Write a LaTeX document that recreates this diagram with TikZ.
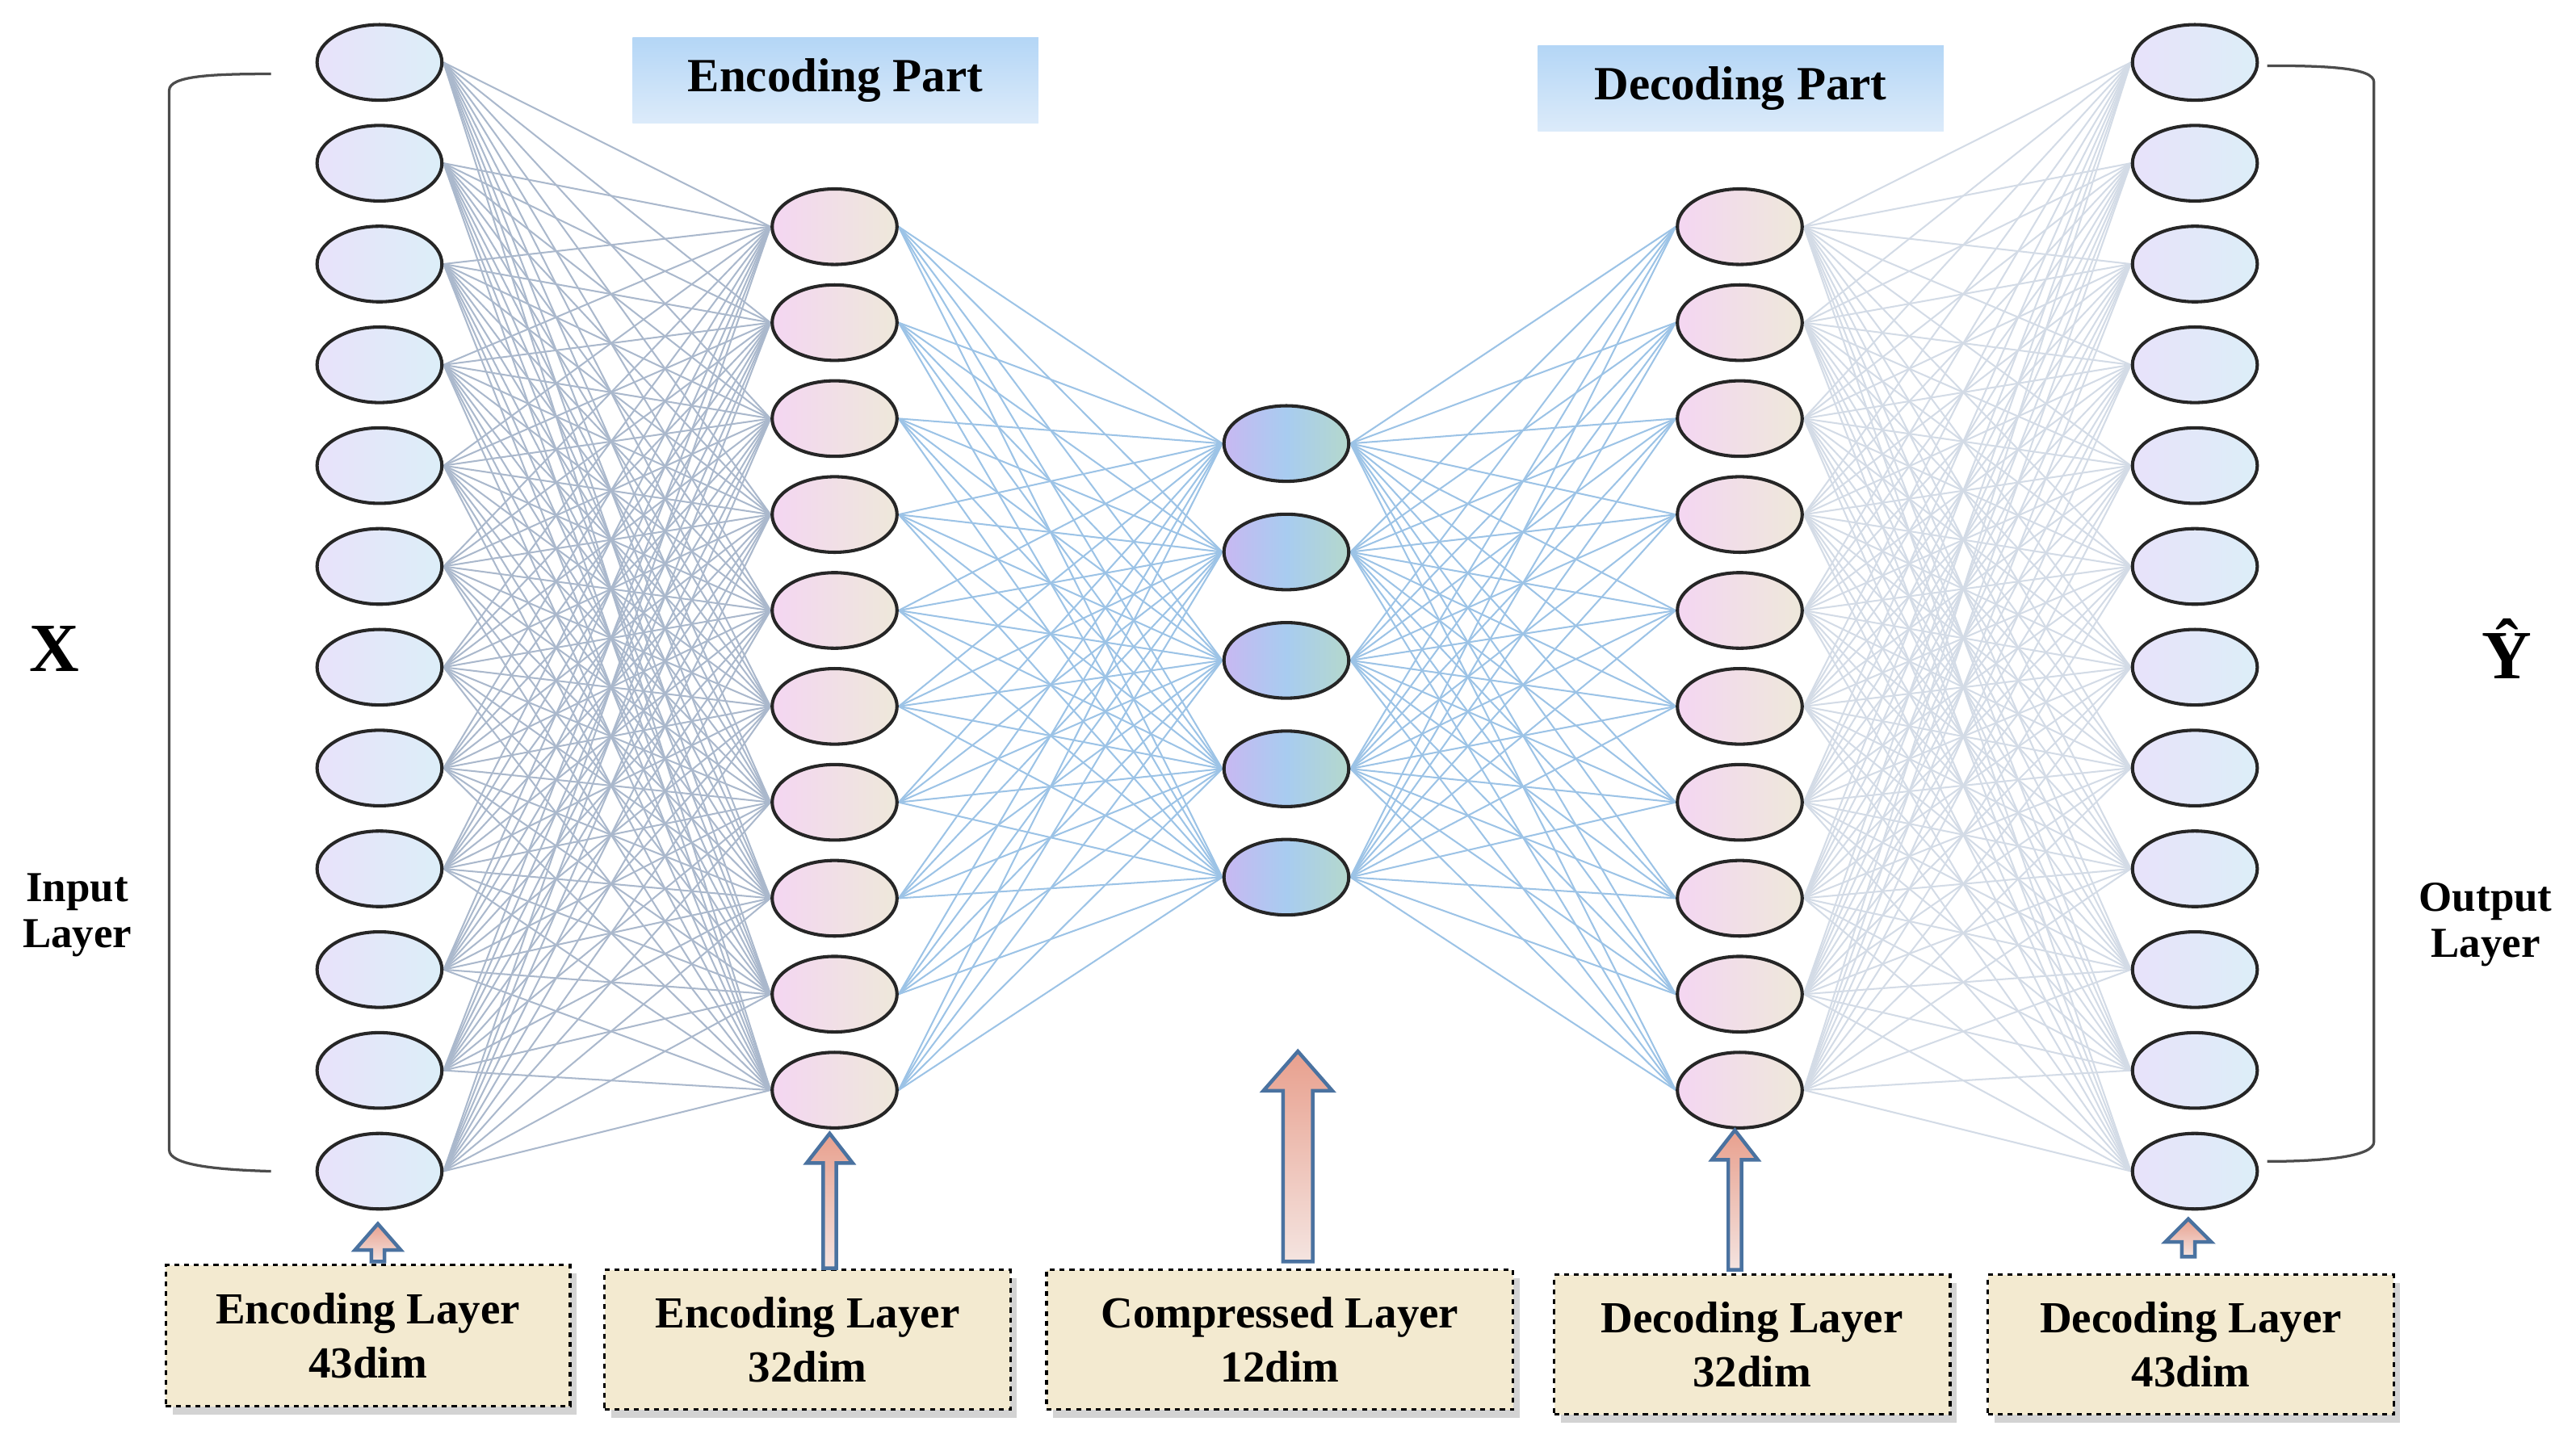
\documentclass[tikz,border=0pt]{standalone}
\usepackage{fontspec}
\setmainfont{Liberation Serif}
\usetikzlibrary{shapes.geometric,shadows}
\pgfdeclarelayer{bg}\pgfsetlayers{bg,main}
\definecolor{edgeA}{HTML}{AAB8CC}
\definecolor{edgeB}{HTML}{9CC3E6}
\definecolor{edgeC}{HTML}{D3DBE6}
\definecolor{boxfill}{HTML}{F3EAD0}
\definecolor{arrline}{HTML}{4A72A0}
\tikzset{
 neu/.style={ellipse,minimum width=76pt,minimum height=46pt,draw=black!85,line width=2pt,inner sep=0pt},
 inN/.style={neu,left color=HTML-E8E2FA,right color=HTML-DCEEF8},
 hidN/.style={neu,left color=HTML-F4D6F2,right color=HTML-EEE8DA},
 midN/.style={neu,left color=HTML-C8B8F2,right color=HTML-B4D8CC,middle color=HTML-A8CCF0},
 lab/.style={rectangle,draw=black,dashed,line width=1.6pt,fill=boxfill,align=center,font=\bfseries\fontsize{27}{33}\selectfont,drop shadow={shadow xshift=4pt,shadow yshift=-5pt,opacity=0.35}},
 title/.style={rectangle,top color=HTML-B4D6F6,bottom color=HTML-DCEBFA,inner sep=0pt,font=\bfseries\fontsize{29}{34}\selectfont},
 big/.style={font=\bfseries\fontsize{42}{46}\selectfont},
 side/.style={align=center,font=\bfseries\fontsize{26}{32}\selectfont},
 brk/.style={draw=black!70,line width=1.6pt},
 barr/.style={draw=arrline,line width=2.2pt,top color=HTML-E8A08E,bottom color=HTML-F4E4E0},
}
\xglobal\colorlet{HTML-E8E2FA}{white}
\definecolor{HTML-E8E2FA}{HTML}{E8E2FA}
\definecolor{HTML-DCEEF8}{HTML}{DCEEF8}
\definecolor{HTML-F4D6F2}{HTML}{F4D6F2}
\definecolor{HTML-EEE8DA}{HTML}{EEE8DA}
\definecolor{HTML-C8B8F2}{HTML}{C8B8F2}
\definecolor{HTML-B4D8CC}{HTML}{B4D8CC}
\definecolor{HTML-A8CCF0}{HTML}{A8CCF0}
\definecolor{HTML-B4D6F6}{HTML}{B4D6F6}
\definecolor{HTML-DCEBFA}{HTML}{DCEBFA}
\definecolor{HTML-E8A08E}{HTML}{E8A08E}
\definecolor{HTML-F4E4E0}{HTML}{F4E4E0}
\newcommand{\myarrow}[6]{% x, ybottom, ytop, shaft half, head half, head height
 \path[barr] (#1-#4,#2) -- (#1-#4,#3+#6) -- (#1-#5,#3+#6) -- (#1,#3) -- (#1+#5,#3+#6) -- (#1+#4,#3+#6) -- (#1+#4,#2) -- cycle;}
\begin{document}
\begin{tikzpicture}[x=1pt,y=-1pt]
\useasboundingbox (0,0) rectangle (1568,870.5);
% nodes
\foreach \i in {1,...,12}{\node[inN] (i\i) at (231,{38+(\i-1)*61.36}) {};
 \node[inN] (o\i) at (1336,{38+(\i-1)*61.36}) {};}
\foreach \i in {1,...,10}{\node[hidN] (a\i) at (508,{138+(\i-1)*58.4}) {};
 \node[hidN] (b\i) at (1059,{138+(\i-1)*58.4}) {};}
\foreach \i in {1,...,5}{\node[midN] (m\i) at (783,{270+(\i-1)*66}) {};}
\begin{pgfonlayer}{bg}
\foreach \i in {1,...,12}{\foreach \j in {1,...,10}{
 \draw[edgeA,line width=1pt] (i\i.east) -- (a\j.west);
 \draw[edgeC,line width=1pt] (b\j.east) -- (o\i.west);}}
\foreach \i in {1,...,10}{\foreach \j in {1,...,5}{
 \draw[edgeB,line width=1pt] (a\i.east) -- (m\j.west);
 \draw[edgeB,line width=1pt] (m\j.east) -- (b\i.west);}}
\end{pgfonlayer}
% titles
\node[title,minimum width=247pt,minimum height=52pt] (tE) at (508.5,49) {Encoding Part};
\node[title,minimum width=247pt,minimum height=52pt] (tD) at (1059.5,54) {Decoding Part};
% side labels
\node[big] (X) at (33,395) {X};
\node[big] (Y) at (1526,395) {\^{Y}};
\node[side] (inl) at (47,557) {Input\\[-4pt]Layer};
\node[side] (outl) at (1513,563) {Output\\[-4pt]Layer};
% brackets
\draw[brk] (165,45) .. controls (130,45) and (103,46) .. (103,55) -- (103,700) .. controls (103,709) and (130,712) .. (165,713);
\draw[brk] (1380,40) .. controls (1415,40) and (1445,41) .. (1445,50) -- (1445,695) .. controls (1445,704) and (1415,707) .. (1380,707);
% bottom boxes
\node[lab,minimum width=246pt,minimum height=86pt] (L1) at (224,813) {Encoding Layer\\43dim};
\node[lab,minimum width=247pt,minimum height=85pt] (L2) at (491.5,815.5) {Encoding Layer\\32dim};
\node[lab,minimum width=284pt,minimum height=85pt] (L3) at (779,815.5) {Compressed Layer\\12dim};
\node[lab,minimum width=241pt,minimum height=85pt] (L4) at (1066.5,818.5) {Decoding Layer\\32dim};
\node[lab,minimum width=247pt,minimum height=85pt] (L5) at (1333.5,818.5) {Decoding Layer\\43dim};
% arrows
\myarrow{230}{768}{745}{4}{14}{16}
\myarrow{505}{772}{690}{4}{14}{18}
\myarrow{790}{768}{640}{9}{21}{24}
\myarrow{1056}{773}{688}{4}{14}{18}
\myarrow{1332}{765}{742}{4}{14}{14}
\end{tikzpicture}
\end{document}
